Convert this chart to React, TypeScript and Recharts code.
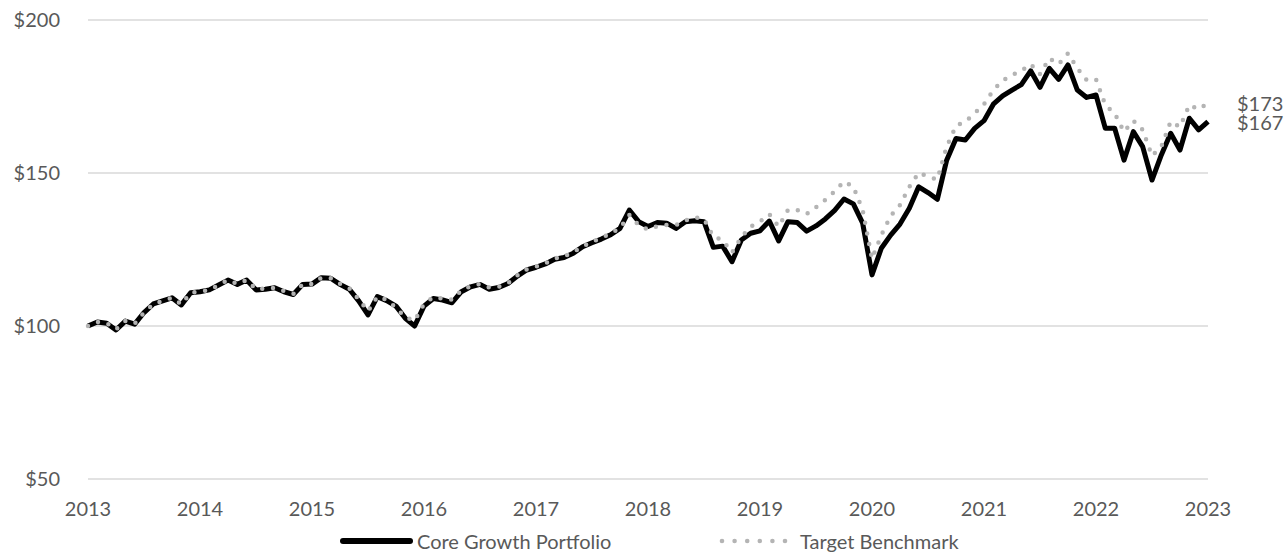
import React from 'react';
import { LineChart, Line, XAxis, YAxis, CartesianGrid, Legend } from 'recharts';

const START_YEAR = 2013;
const yearTicks = [2013, 2014, 2015, 2016, 2017, 2018, 2019, 2020, 2021, 2022, 2023];
const valueTicks = [50, 100, 150, 200];

const portfolio = [
  // 2013
  100, 101.3, 100.9, 98.7, 101.6, 100.6, 104.4, 107.2, 108.2, 109.2, 106.9, 110.9,
  // 2014
  111.2, 111.8, 113.4, 115, 113.6, 115, 111.8, 112, 112.5, 111.2, 110.3, 113.6,
  // 2015
  113.7, 115.8, 115.6, 113.6, 112, 108.2, 103.6, 109.6, 108.3, 106.5, 102.5, 100,
  // 2016
  106.5, 109, 108.5, 107.6, 111.2, 112.8, 113.6, 112, 112.6, 113.9, 116.3, 118.3,
  // 2017
  119.2, 120.3, 121.8, 122.4, 123.8, 125.9, 127.2, 128.4, 129.8, 131.9, 137.9, 134.1,
  // 2018
  132.5, 133.8, 133.6, 131.9, 134.1, 134.4, 134.1, 125.7, 126.1, 121, 128.1, 130.3,
  // 2019
  131.1, 134.3, 127.8, 134.1, 133.8, 131, 132.7, 135, 137.8, 141.5, 139.9, 133.6,
  // 2020
  116.7, 125.4, 129.7, 133.3, 138.5, 145.5, 143.6, 141.4, 154.2, 161.3, 160.8, 164.6,
  // 2021
  167.1, 172.5, 175.2, 177.1, 178.9, 183.4, 178, 184.2, 180.6, 185.3, 177.1, 174.7,
  // 2022
  175.5, 164.6, 164.6, 154.2, 163.5, 158.6, 147.7, 155.9, 163, 157.5, 167.9, 164.1,
  // 2023
  166.8,
];

const benchmark = [
  // 2013
  100, 101.3, 100.9, 98.9, 101.6, 100.8, 104.4, 107.2, 108.2, 109.2, 107.1, 110.9,
  // 2014
  111.2, 111.8, 113.4, 115, 113.8, 115, 112, 112.2, 112.5, 111.4, 110.5, 113.6,
  // 2015
  113.7, 115.8, 115.6, 113.8, 112.3, 108.8, 104.8, 109.6, 108.6, 106, 102.8, 101.8,
  // 2016
  107.2, 109.4, 109, 108.6, 111.6, 113, 113.8, 112.6, 112.8, 114, 116.5, 118.5,
  // 2017
  119.4, 120.5, 122, 122.8, 124.1, 126, 127.5, 128.8, 130.2, 132, 136.3, 133,
  // 2018
  131.5, 132.6, 133, 133, 134.5, 135.5, 135, 129.2, 128.1, 124, 129, 132.5,
  // 2019
  134.1, 136.5, 132.5, 137.9, 137.9, 136.6, 138.8, 141.2, 144, 147.2, 145.5, 137.9,
  // 2020
  122, 129.7, 136, 139.5, 145.5, 150.1, 148.8, 147.9, 158.6, 165.4, 166.8, 169.5,
  // 2021
  172.5, 177.1, 180.2, 182, 183.4, 185.6, 182.3, 187.5, 185.6, 189.1, 184.2, 180.4,
  // 2022
  180.6, 172.2, 169.5, 163.5, 167.1, 164.1, 155.6, 158.6, 166.8, 165.1, 172.2, 170.8,
  // 2023
  172.8,
];

const data = portfolio.map((p, i) => ({
  t: START_YEAR + i / 12,
  portfolio: p,
  benchmark: benchmark[i],
}));

const TEXT = '#595959';
const FONT = 'Lato, "Open Sans", sans-serif';
const LAST = portfolio.length - 1;

const endLabel = (props: any) => {
  const { x, y, index, value } = props;
  if (index !== LAST) return null;
  return (
    <text x={x + 29} y={y} dominantBaseline="central" fill={TEXT} fontSize={20} fontFamily={FONT}>
      {'$' + Math.round(value)}
    </text>
  );
};

const LegendContent = () => (
  <div style={{ position: 'relative', width: 1286, height: 40, fontFamily: FONT, fontSize: 20, color: TEXT }}>
    <div style={{ position: 'absolute', left: 340, top: 26, width: 73, height: 6, background: '#000', borderRadius: 3 }} />
    <div style={{ position: 'absolute', left: 417, top: 16, lineHeight: '26px', whiteSpace: 'nowrap' }}>Core Growth Portfolio</div>
    <svg style={{ position: 'absolute', left: 716, top: 24 }} width={76} height={10}>
      {[0, 1, 2, 3, 4, 5].map((k) => (
        <circle key={k} cx={6 + k * 12.6} cy={5} r={2.3} fill="#b4b4b4" />
      ))}
    </svg>
    <div style={{ position: 'absolute', left: 800, top: 16, lineHeight: '26px', whiteSpace: 'nowrap' }}>Target Benchmark</div>
  </div>
);

export default function App() {
  return (
    <div style={{ position: 'absolute', left: 0, top: 0, width: 1286, height: 552, background: '#fff' }}>
      <LineChart width={1286} height={552} data={data} margin={{ top: 20, right: 78, left: 0, bottom: 0 }}>
        <CartesianGrid vertical={false} stroke="#d9d9d9" strokeWidth={1.5} />
        <XAxis
          dataKey="t"
          type="number"
          domain={[2013, 2023]}
          ticks={yearTicks}
          axisLine={false}
          tickLine={false}
          tickMargin={17}
          height={33}
          interval={0}
          tick={{ fill: TEXT, fontSize: 20, fontFamily: FONT }}
        />
        <YAxis
          type="number"
          domain={[50, 200]}
          ticks={valueTicks}
          axisLine={false}
          tickLine={false}
          tickMargin={22}
          width={88}
          tickFormatter={(v: number) => '$' + v}
          tick={{ fill: TEXT, fontSize: 20, fontFamily: FONT }}
        />
        <Legend
          verticalAlign="bottom"
          height={40}
          content={<LegendContent />}
          wrapperStyle={{ left: 0, width: 1286, bottom: 0, height: 40 }}
        />
        <Line
          dataKey="portfolio"
          name="Core Growth Portfolio"
          stroke="#000"
          strokeWidth={5}
          strokeLinejoin="round"
          dot={false}
          isAnimationActive={false}
          label={endLabel}
        />
        <Line
          dataKey="benchmark"
          name="Target Benchmark"
          stroke="#b4b4b4"
          strokeWidth={4.5}
          strokeDasharray="0 10.8"
          strokeLinecap="round"
          dot={false}
          isAnimationActive={false}
          label={endLabel}
        />
      </LineChart>
    </div>
  );
}
